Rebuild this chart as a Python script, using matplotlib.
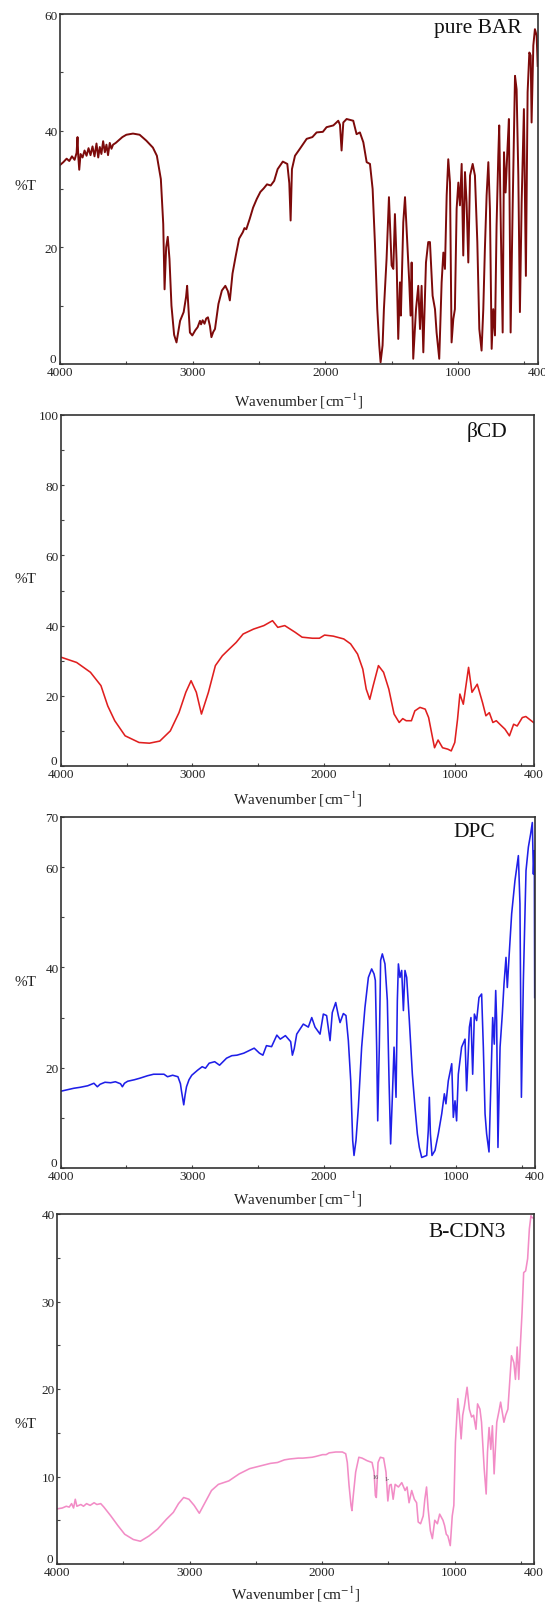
import matplotlib
matplotlib.use("Agg")
import matplotlib.pyplot as plt
from matplotlib.transforms import ScaledTranslation

plt.rcParams['font.family'] = ['Liberation Serif', 'DejaVu Serif']
plt.rcParams['mathtext.fontset'] = 'stix'

# ---- spectra (wavenumber cm-1, %T) ----
bar_wn = [4000, 3975, 3950, 3930, 3910, 3890, 3875, 3868, 3862, 3855, 3845, 3830, 3815, 3800,
          3785, 3770, 3755, 3740, 3725, 3712, 3700, 3688, 3675, 3662, 3650, 3638, 3625, 3612,
          3600, 3580, 3560, 3530, 3500, 3450, 3400, 3350, 3300, 3270, 3240, 3222, 3212, 3200,
          3188, 3175, 3160, 3140, 3122, 3095, 3068, 3050, 3042, 3030, 3021, 3003, 2980, 2963,
          2945, 2937, 2925, 2911, 2898, 2885, 2870, 2859, 2845, 2832, 2806, 2780, 2754, 2735,
          2720, 2700, 2675, 2650, 2622, 2610, 2596, 2570, 2545, 2517, 2490, 2465, 2440, 2412,
          2386, 2360, 2321, 2287, 2272, 2262, 2252, 2229, 2192, 2141, 2098, 2066, 2019, 1991,
          1940, 1903, 1890, 1878, 1865, 1840, 1790, 1765, 1740, 1714, 1689, 1664, 1644, 1627,
          1609, 1594, 1584, 1569, 1559, 1539, 1521, 1508, 1501, 1488, 1476, 1463, 1451, 1438,
          1431, 1413, 1400, 1383, 1368, 1358, 1350, 1338, 1317, 1300, 1287, 1275, 1262, 1242,
          1225, 1212, 1192, 1174, 1162, 1142, 1124, 1111, 1099, 1086, 1074, 1061, 1049, 1036,
          1024, 1011, 998, 986, 973, 961, 948, 936, 923, 910, 890, 873, 855, 840, 823, 810, 798,
          785, 772, 760, 747, 735, 722, 710, 697, 690, 677, 664, 654, 642, 629, 617, 604, 589,
          571, 559, 546, 534, 521, 504, 489, 476, 463, 453, 446, 433, 421, 408, 400]
bar_t = [34.1, 34.6, 35.2, 34.8, 35.6, 35.0, 36.2, 38.9, 35.5, 33.3, 36.0, 35.4, 36.6, 35.7,
         37.0, 35.8, 37.3, 35.6, 37.8, 35.4, 37.2, 36.0, 38.2, 36.3, 37.6, 35.8, 37.9, 36.9,
         37.6, 37.9, 38.3, 38.9, 39.3, 39.5, 39.3, 38.3, 37.1, 35.7, 31.7, 24.0, 12.8, 20.0,
         21.8, 18.0, 10.0, 5.0, 3.7, 7.4, 8.9, 11.5, 13.4, 9.0, 5.4, 4.9, 5.8, 6.3,
         7.4, 6.8, 7.5, 6.9, 7.8, 8.0, 6.5, 4.6, 5.5, 6.0, 10.3, 12.6, 13.4, 12.5,
         10.9, 15.5, 18.6, 21.5, 22.6, 23.3, 23.1, 24.9, 26.8, 28.3, 29.5, 30.1, 30.8, 30.6,
         31.4, 33.4, 34.7, 34.3, 31.0, 24.6, 33.4, 35.7, 36.9, 38.6, 38.9, 39.7, 39.8, 40.6,
         40.9, 41.7, 41.0, 36.6, 41.4, 42.0, 41.7, 39.4, 39.7, 38.0, 34.6, 34.3, 30.0, 20.9,
         9.4, 3.2, 0.3, 3.2, 9.4, 18.0, 28.6, 20.9, 16.9, 16.3, 25.7, 17.4, 4.3, 14.0,
         8.3, 24.3, 28.6, 20.9, 14.0, 8.3, 17.4, 0.9, 9.4, 13.4, 6.0, 13.4, 2.0, 17.4,
         20.9, 20.9, 11.7, 9.4, 5.4, 0.9, 14.0, 19.1, 16.3, 28.9, 35.1, 31.1, 3.7, 7.7,
         9.4, 26.6, 31.1, 27.2, 34.3, 18.6, 32.9, 27.7, 17.4, 32.3, 34.3, 32.3, 20.9, 6.0, 2.3, 9.4, 19.7,
         28.9, 34.6, 26.6, 2.6, 9.4, 4.9, 23.7, 35.7, 40.9, 22.0, 5.4, 36.3, 29.4, 36.3, 42.0, 5.4, 26.6,
         49.4, 47.1, 32.3, 8.9, 27.7, 43.7, 15.1, 46.6, 53.4, 52.9, 41.4, 54.6, 57.4, 56.3, 51.1]

bcd_wn = [4000, 3881, 3776, 3696, 3644, 3591, 3512, 3406, 3327, 3248, 3168, 3102, 3050, 3010,
          2970, 2931, 2878, 2825, 2772, 2720, 2667, 2614, 2535, 2456, 2390, 2350, 2297, 2218,
          2165, 2086, 2033, 1994, 1928, 1848, 1796, 1743, 1703, 1677, 1650, 1624, 1584, 1545,
          1505, 1465, 1426, 1399, 1373, 1333, 1307, 1268, 1228, 1202, 1175, 1157, 1130, 1096,
          1056, 1030, 1003, 982, 964, 938, 898, 872, 832, 792, 766, 740, 713, 687, 660, 621,
          587, 555, 528, 489, 462, 404]
bcd_t = [31.0, 29.5, 26.7, 22.9, 17.1, 12.9, 8.6, 6.7, 6.5, 7.1, 10.0, 15.2, 21.0, 24.3,
         21.0, 14.8, 21.0, 28.6, 31.4, 33.3, 35.2, 37.6, 39.0, 40.0, 41.4, 39.5, 40.0, 38.1,
         36.7, 36.4, 36.4, 37.3, 37.0, 36.2, 34.8, 31.9, 27.6, 21.9, 19.0, 22.9, 28.6, 26.7,
         21.9, 14.8, 12.4, 13.5, 12.9, 12.9, 15.7, 16.7, 16.2, 13.8, 8.6, 5.2, 7.4, 5.2,
         4.8, 4.3, 6.7, 13.3, 20.5, 17.6, 28.1, 21.0, 23.3, 18.1, 14.3, 15.2, 12.4, 12.9, 11.9, 10.5,
         8.6, 11.9, 11.4, 13.8, 14.1, 12.4]

dpc_wn = [4000, 3950, 3900, 3850, 3794, 3747, 3721, 3700, 3663, 3620, 3584, 3545, 3531, 3515,
          3491, 3440, 3399, 3340, 3294, 3215, 3188, 3149, 3109, 3090, 3083, 3065, 3055, 3044,
          3025, 3004, 2960, 2925, 2900, 2872, 2830, 2793, 2740, 2700, 2661, 2609, 2570, 2530,
          2490, 2464, 2437, 2398, 2358, 2332, 2293, 2253, 2240, 2226, 2207, 2157, 2119, 2093,
          2068, 2030, 2005, 1980, 1954, 1937, 1911, 1891, 1878, 1853, 1833, 1815, 1797, 1782,
          1772, 1757, 1739, 1714, 1689, 1663, 1638, 1620, 1610, 1600, 1592, 1580, 1570, 1557,
          1537, 1519, 1506, 1494, 1481, 1468, 1453, 1443, 1435, 1423, 1410, 1397, 1385, 1372,
          1352, 1329, 1309, 1291, 1276, 1258, 1220, 1208, 1200, 1192, 1180, 1157, 1132, 1106,
          1086, 1074, 1056, 1030, 1018, 1005, 993, 980, 955, 929, 917, 896, 884, 871, 858, 841,
          823, 803, 790, 777, 765, 747, 732, 719, 707, 696, 689, 679, 663, 646, 633, 618, 608,
          595, 575, 550, 524, 512, 501, 486, 466, 448, 431, 418, 410, 403, 400]
dpc_t = [15.3, 15.6, 15.9, 16.1, 16.4, 16.9, 16.2, 16.7, 17.1, 17.0, 17.2, 16.8, 16.2, 16.9,
         17.3, 17.6, 17.9, 18.4, 18.7, 18.7, 18.2, 18.5, 18.2, 16.8, 15.5, 12.6, 14.5, 16.2,
         17.6, 18.5, 19.5, 20.2, 19.9, 20.9, 21.2, 20.5, 21.9, 22.4, 22.5, 22.9, 23.4, 23.9,
         22.9, 22.5, 24.4, 24.2, 26.5, 25.7, 26.4, 25.2, 22.5, 23.8, 26.7, 28.7, 28.1, 30.0,
         28.1, 26.7, 30.7, 30.4, 25.4, 31.0, 33.0, 30.4, 29.0, 30.8, 30.4, 25.4, 17.4, 5.5,
         2.5, 5.5, 12.1, 24.1, 32.0, 38.0, 39.7, 38.7, 37.4, 24.1, 9.4, 24.1, 41.4, 42.7,
         40.7, 33.4, 17.4, 4.8, 14.1, 24.1, 14.1, 33.4, 40.7, 38.0, 39.4, 31.4, 39.4, 38.0,
         29.4, 18.7, 12.1, 6.8, 4.1, 2.1, 2.5, 7.5, 14.1, 6.8, 2.5, 3.5, 6.8, 10.8,
         14.8, 12.8, 17.4, 20.8, 10.1, 13.4, 9.4, 18.7, 24.1, 25.7, 15.4, 28.1, 30.0, 18.7, 30.7, 29.4,
         34.0, 34.7, 24.1, 10.8, 6.8, 3.2, 17.4, 30.0, 24.7, 35.4, 29.4, 4.1, 24.1, 30.7, 36.7, 42.0, 36.0,
         42.0, 50.7, 57.3, 62.3, 52.7, 14.1, 37.4, 59.3, 64.0, 66.6, 68.9, 58.6, 63.3, 34.0]

cdn_wn = [4000, 3960, 3930, 3908, 3890, 3875, 3862, 3850, 3820, 3800, 3777, 3750, 3720, 3699,
          3670, 3646, 3620, 3594, 3541, 3489, 3424, 3371, 3306, 3240, 3175, 3122, 3083, 3044,
          3004, 2965, 2926, 2887, 2834, 2782, 2703, 2625, 2546, 2467, 2389, 2336, 2284, 2244,
          2179, 2145, 2074, 2045, 1995, 1969, 1946, 1896, 1846, 1821, 1809, 1796, 1781, 1774,
          1764, 1746, 1722, 1697, 1659, 1622, 1607, 1597, 1590, 1577, 1560, 1535, 1517, 1503,
          1490, 1478, 1463, 1448, 1423, 1398, 1373, 1358, 1343, 1323, 1303, 1286, 1274, 1256,
          1236, 1224, 1211, 1199, 1182, 1167, 1149, 1129, 1112, 1087, 1075, 1062, 1050, 1032,
          1017, 1005, 993, 975, 963, 950, 938, 925, 905, 888, 871, 856, 838, 826, 808, 796,
          776, 761, 751, 739, 726, 714, 701, 681, 664, 652, 639, 627, 614, 597, 582, 570, 552,
          540, 527, 515, 502, 490, 478, 463, 448, 435, 423, 415, 400]
cdn_t = [6.3, 6.4, 6.6, 6.5, 6.9, 6.4, 7.4, 6.6, 6.8, 6.6, 6.9, 6.7, 7.0, 6.8,
         6.9, 6.5, 6.0, 5.5, 4.4, 3.4, 2.8, 2.6, 3.2, 4.0, 5.1, 5.9, 6.9, 7.6,
         7.4, 6.7, 5.8, 6.9, 8.4, 9.1, 9.5, 10.3, 10.9, 11.2, 11.5, 11.6, 11.9, 12.0,
         12.1, 12.1, 12.2, 12.3, 12.5, 12.5, 12.7, 12.8, 12.8, 12.6, 11.6, 9.0, 6.7, 6.1,
         7.8, 10.5, 12.2, 12.1, 11.8, 11.6, 10.5, 7.8, 7.6, 11.6, 12.2, 12.1, 10.5, 7.2,
         9.0, 9.1, 7.4, 9.1, 8.8, 9.3, 8.4, 8.8, 7.0, 8.4, 7.4, 7.0, 4.8, 4.6,
         5.5, 7.4, 8.8, 6.3, 3.8, 2.9, 5.0, 4.6, 5.7, 5.0, 4.4, 3.4, 3.2, 2.1,
         5.5, 6.7, 13.9, 18.9, 17.0, 14.3, 17.0, 18.1, 20.2, 17.7, 16.8, 17.0, 15.4, 18.3, 17.7, 16.2,
         10.9, 8.0, 12.8, 15.6, 13.1, 15.8, 10.3, 16.2, 17.5, 18.5, 17.3, 16.2, 17.0, 17.7, 21.1, 23.8, 23.0,
         21.1, 24.8, 21.1, 25.3, 28.8, 33.3, 33.5, 34.9, 38.3, 39.8, 39.6, 39.5]

titles = ["pure BAR", "\u03b2CD", "DPC", "B-CDN3"]
colors = ["#7d0a0a", "#e01f1f", "#1f1fe8", "#f28cc6"]
ymaxes = [60, 100, 70, 40]
yticks = [[0, 20, 40, 60], [0, 20, 40, 60, 80, 100], [0, 20, 40, 60, 70], [0, 10, 20, 30, 40]]
yminor = [[10, 30, 50], [10, 30, 50, 70, 90], [10, 30, 50], [5, 15, 25, 35]]
xticks = [4000, 3000, 2000, 1000, 400]
xminor = [3500, 2500, 1500, 500]

# axes boxes in pixels: left, right, top, bottom ; plus title/ylabel spots
W, H = 545, 1606
boxes = [(60, 537.7, 15, 365), (61, 534, 416, 767), (60.6, 534.7, 818, 1169), (57, 534, 1215, 1565)]
title_pos = [(0.967, 0.961), (0.943, 0.954), (0.916, 0.960), (0.941, 0.951)]
ylab_y = [0.509, 0.533, 0.530, 0.40]
xlab_off = [36, 32, 30, 29]

series = [(bar_wn, bar_t), (bcd_wn, bcd_t), (dpc_wn, dpc_t), (cdn_wn, cdn_t)]

fig = plt.figure(figsize=(W / 100, H / 100), dpi=100)

for i in range(4):
    l, r, t, b = boxes[i]
    ax = fig.add_axes([l / W, 1 - b / H, (r - l) / W, (b - t) / H])
    wn, tr = series[i]
    ax.plot(wn, tr, color=colors[i], lw=1.4 if i == 0 else 1.15)
    ax.set_xlim(4000, 400)
    ax.set_ylim(0, ymaxes[i])
    ax.set_xticks(xticks)
    ax.set_xticks(xminor, minor=True)
    ax.set_yticks(yticks[i])
    ax.set_yticks(yminor[i], minor=True)
    ax.tick_params(which='both', direction='in', length=2.5, width=0.8, color='#444444',
                   labelsize=9.5, labelcolor='#222222')
    ax.tick_params(axis='x', pad=1.5)
    ax.tick_params(axis='y', pad=1.5)
    # the "0" on the y axis sits a little above the corner
    lab0 = ax.get_yticklabels()[0]
    lab0.set_transform(lab0.get_transform() + ScaledTranslation(-1 / 72, 5 / 72, fig.dpi_scale_trans))
    for sp in ax.spines.values():
        sp.set_color('#333333')
        sp.set_linewidth(1.2)
    ax.text(title_pos[i][0], title_pos[i][1], titles[i], transform=ax.transAxes,
            ha='right', va='center', fontsize=15.5, color='#111111')
    ax.text(0.5, -xlab_off[i] / (b - t), "Wavenumber [cm$^{-1}$]", transform=ax.transAxes,
            ha='center', va='center', fontsize=11, color='#222222')
    ax.text((25 - l) / (r - l), ylab_y[i], "%T", transform=ax.transAxes,
            ha='center', va='center', fontsize=11, color='#222222')
    if i == 3:
        ax.text(1595, 10.0, "16", fontsize=4.5, color='#555555', ha='center', va='center')
        ax.text(1512, 9.8, "1-", fontsize=4.5, color='#555555', ha='center', va='center')

fig.savefig("out.png", dpi=100)
